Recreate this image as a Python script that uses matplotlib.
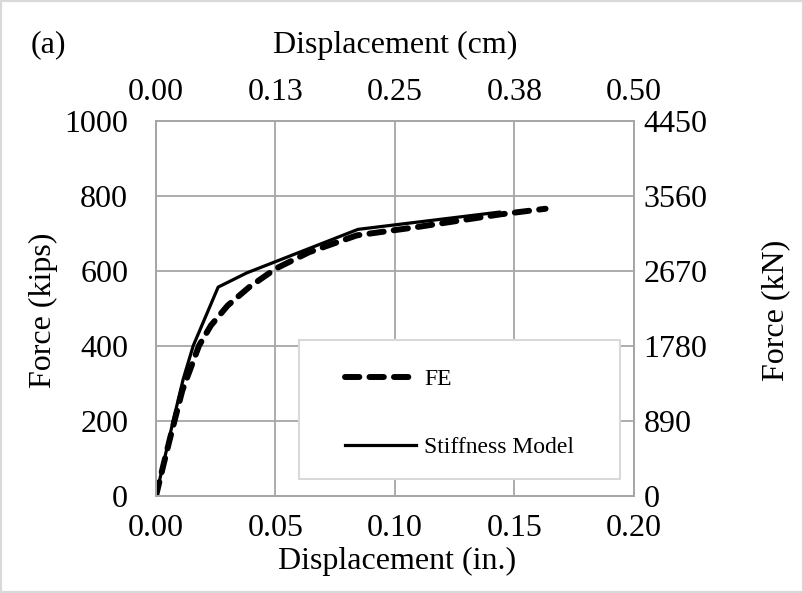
import matplotlib
matplotlib.use("Agg")
from matplotlib import pyplot as plt
from matplotlib.patches import Rectangle

# FE curve (in., kips)
fe_disp = [0.0, 0.003, 0.006, 0.011, 0.018, 0.023, 0.030, 0.039, 0.050, 0.064, 0.084, 0.109, 0.144, 0.163]
fe_force = [0, 80, 157, 281, 401, 455, 508, 557, 606, 650, 695, 717, 751, 766]

# stiffness model (in., kips)
sm_disp = [0.0, 0.0072, 0.0114, 0.0156, 0.026, 0.038, 0.0845, 0.1436]
sm_force = [0, 201, 312, 401, 557, 595, 711, 757]

x_ticks = [0.00, 0.05, 0.10, 0.15, 0.20]
x_ticklabels = ['0.00', '0.05', '0.10', '0.15', '0.20']
cm_ticklabels = ['0.00', '0.13', '0.25', '0.38', '0.50']
y_ticks = [0, 200, 400, 600, 800, 1000]
kn_ticklabels = ['0', '890', '1780', '2670', '3560', '4450']

plt.rcParams['font.family'] = ['Liberation Serif', 'DejaVu Serif']
GRID = '#a6a6a6'
FS = 23

fig = plt.figure(figsize=(8.04, 5.93), dpi=100)
ax = fig.add_axes([156/804, 1-496/593, 478/804, 375/593])

ax.set_xlim(0, 0.2)
ax.set_ylim(0, 1000)
ax.set_xticks(x_ticks)
ax.set_xticklabels(x_ticklabels)
ax.set_yticks(y_ticks)
ax.grid(True, color=GRID, lw=1.3, zorder=0)
ax.set_axisbelow(True)
ax.tick_params(length=0, labelsize=FS)
ax.tick_params(axis='x', pad=13)
ax.tick_params(axis='y', pad=20)
for s in ax.spines.values():
    s.set_color(GRID)
    s.set_linewidth(1.3)

# box behind the legend hides the grid
ax.add_patch(Rectangle((0.299, 0.045), 0.672, 0.371, transform=ax.transAxes,
                       facecolor='white', edgecolor='#d9d9d9', lw=1.5, zorder=2))

ax.plot(fe_disp, fe_force, color='black', lw=4.3, dashes=(2.4, 1.7),
        dash_capstyle='round', label='FE', zorder=4)
ax.plot(sm_disp, sm_force, color='black', lw=2.3, label='Stiffness Model', zorder=4)

leg = ax.legend(loc='upper left', bbox_to_anchor=(0.395, 0.34), frameon=False,
                borderpad=0, borderaxespad=0, fontsize=17, handlelength=3.0,
                handletextpad=0.35, labelspacing=1.97)
leg.set_zorder(5)

# secondary scales
axt = ax.twiny()
axt.set_xlim(ax.get_xlim())
axt.set_xticks(x_ticks)
axt.set_xticklabels(cm_ticklabels)
axt.tick_params(length=0, labelsize=FS, pad=10)
axr = ax.twinx()
axr.set_ylim(ax.get_ylim())
axr.set_yticks(y_ticks)
axr.set_yticklabels(kn_ticklabels)
axr.tick_params(length=0, labelsize=FS, pad=7)
for a in (axt, axr):
    for s in a.spines.values():
        s.set_color(GRID)
        s.set_linewidth(1.3)

fig.text(397/804, 1-561/593, 'Displacement (in.)', ha='center', va='center', fontsize=FS)
fig.text(395/804, 1-45/593, 'Displacement (cm)', ha='center', va='center', fontsize=FS)
fig.text(43/804, 1-310/593, 'Force (kips)', ha='center', va='center', rotation=90, fontsize=FS)
fig.text(776/804, 1-310/593, 'Force (kN)', ha='center', va='center', rotation=90, fontsize=FS)
fig.text(48/804, 1-45/593, '(a)', ha='center', va='center', fontsize=FS)

fig.add_artist(Rectangle((0, 0), 1, 1, transform=fig.transFigure, fill=False,
                         edgecolor='#d9d9d9', lw=3))

fig.savefig('out.png', dpi=100)
